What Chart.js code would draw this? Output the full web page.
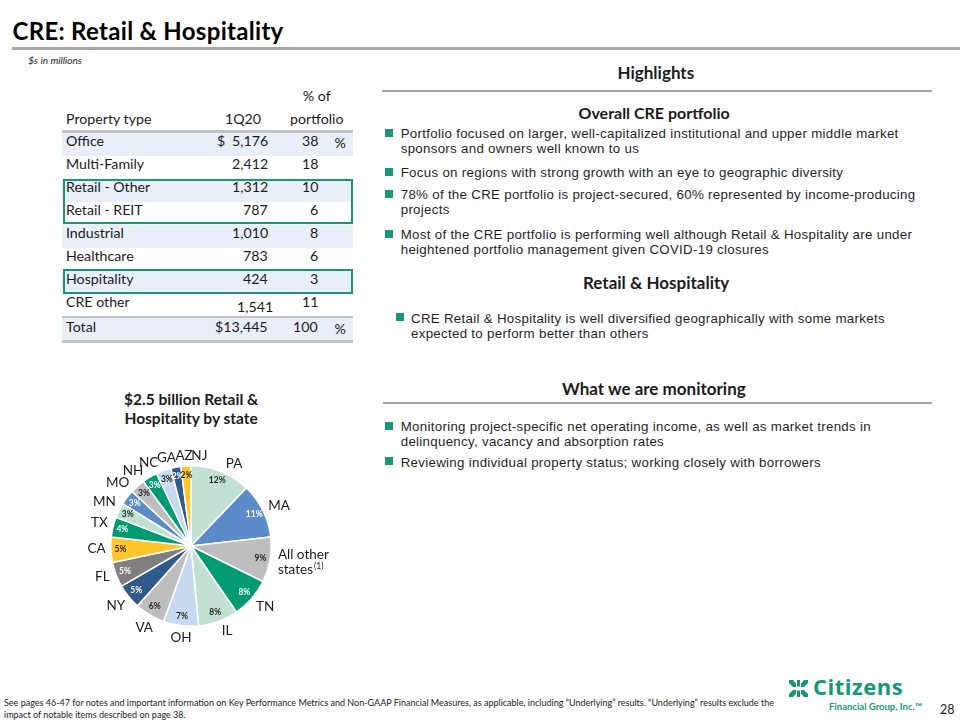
<!DOCTYPE html>
<html>
<head>
<meta charset="utf-8">
<title>CRE: Retail &amp; Hospitality</title>
<script src="https://cdn.jsdelivr.net/npm/chart.js@4.4.1/dist/chart.umd.min.js"></script>
<style>
  body { margin: 0; background: #fff; }
  #slide { position: relative; width: 960px; height: 720px; overflow: hidden;
           font-family: Lato, "Open Sans", sans-serif; color: #1b1b1b; }
  .t { position: absolute; white-space: nowrap; }
  .box { position: absolute; box-sizing: border-box; }
  #pieBox { position: absolute; left: 0; top: 430px; width: 382px; height: 232px; }
</style>
</head>
<body>
<div id="slide">
  <div id="pieBox"><canvas id="pie" width="382" height="232"></canvas></div>
</div>
<script>
// DATA
const states = ['PA', 'MA', 'All other states', 'TN', 'IL', 'OH', 'VA', 'NY', 'FL', 'CA', 'TX', 'MN', 'MO', 'NH', 'NC', 'GA', 'AZ', 'NJ'];
const stateShare = [12, 11, 9, 8, 8, 7, 6, 5, 5, 5, 4, 3, 3, 3, 3, 3, 2, 2];

const propertyTypes = ['Office', 'Multi-Family', 'Retail - Other', 'Retail - REIT', 'Industrial', 'Healthcare', 'Hospitality', 'CRE other'];
const balances1Q20 = [5176, 2412, 1312, 787, 1010, 783, 424, 1541];
const portfolioPct = [38, 18, 10, 6, 8, 6, 3, 11];
const totalBalance = 13445;
const totalPct = 100;

// COLORS
const mint = '#c2e1d3', blue = '#5b8bc8', gray = '#bebebe', green = '#009a73',
      ltblue = '#c8daf0', navy = '#2f5a8c', dkgray = '#7f7f7f', gold = '#ffc629';
const citizensGreen = '#17977a';
const sliceColors = [mint, blue, gray, green, mint, ltblue, gray, navy, dkgray, gold, green, mint, blue, gray, green, ltblue, navy, gold];
const pctColors = sliceColors.map(function(c) {
  return [blue, green, navy, dkgray].indexOf(c) >= 0 ? '#ffffff' : '#262626';
});
// small angle nudges (degrees) for the state names, like the crowded labels of the original
const labelNudge = [5.7, 1.4, 0, -2, -3.2, -1, -1, 1, 2.1, 1.5, 0.7, 1.2, 3.7, 4.4, 4.1, 4.6, 6.5, 8.9];

const slide = document.getElementById('slide');

function esc(s) {
  return s.replace(/&/g, '&amp;').replace(/</g, '&lt;');
}

// font metrics (ascent, descent) used to place a text by its baseline
const LATO = [0.987, 0.213];
const ARIAL = [0.905, 0.212];

// text helper: x, baseline of first line
function put(str, x, base, o) {
  o = o || {};
  const fs = o.size || 14;
  const lh = o.lh || Math.round(fs * 0.85);
  const m = o.metrics || LATO;
  const d = document.createElement('div');
  d.className = 't';
  d.innerHTML = Array.isArray(str) ? str.map(esc).join('<br>') : esc(str);
  d.style.fontSize = fs + 'px';
  d.style.lineHeight = lh + 'px';
  if (o.bold) d.style.fontWeight = '700';
  if (o.italic) d.style.fontStyle = 'italic';
  if (o.color) d.style.color = o.color;
  if (o.font) d.style.fontFamily = o.font;
  if (o.spacing) d.style.letterSpacing = o.spacing + 'px';
  if (o.align) d.style.textAlign = o.align;
  d.style.top = (base - ((lh - (m[0] + m[1]) * fs) / 2 + m[0] * fs)) + 'px';
  slide.appendChild(d);
  const w = d.offsetWidth;
  if (o.align === 'center') d.style.left = (x - w / 2) + 'px';
  else if (o.align === 'right') d.style.left = (x - w) + 'px';
  else d.style.left = x + 'px';
  return d;
}

function rect(x, y, w, h, css) {
  const d = document.createElement('div');
  d.className = 'box';
  d.style.left = x + 'px';
  d.style.top = y + 'px';
  d.style.width = w + 'px';
  d.style.height = h + 'px';
  Object.assign(d.style, css || {});
  slide.appendChild(d);
  return d;
}

function bullet(x, base) {
  rect(x, base - 9.3, 8, 8, { background: citizensGreen });
}

// TITLE
put('CRE: Retail & Hospitality', 12.5, 40, { size: 24, bold: true, color: '#000', spacing: 0.3 });
rect(12, 47, 948, 3, { background: '#a6a6a6' });
put('$s in millions', 28.3, 64, { size: 10, italic: true });

// TABLE
const rowTop = 132.5, rowH = 23, tableL = 62, tableW = 291;
const fmt = function(n) { return n.toLocaleString('en-US'); };
const tSize = 14.2;

propertyTypes.forEach(function(name, i) {
  if (i % 2 === 0) rect(tableL, rowTop + i * rowH, tableW, rowH, { background: '#e9eff8' });
});
rect(tableL, 318, tableW, 22, { background: '#e9eff8' });
rect(tableL, 130, tableW, 2.5, { background: '#c3c3c3' });
rect(tableL, 316, tableW, 2, { background: '#c3c3c3' });
rect(tableL, 340, tableW, 2.5, { background: '#c3c3c3' });

put(['% of', 'portfolio'], 317, 101, { size: tSize, align: 'center', lh: 23 });
put('Property type', 66, 124, { size: tSize });
put('1Q20', 243, 124, { size: tSize, align: 'center' });

propertyTypes.forEach(function(name, i) {
  const base = rowTop + i * rowH + 14;
  put(name, 66, base, { size: tSize });
  // CRE other sits a bit lower and to the right in the original
  const shift = name === 'CRE other' ? 5 : 0;
  put(fmt(balances1Q20[i]), 268 + shift, base + shift, { size: tSize, align: 'right' });
  put(String(portfolioPct[i]), 318, base, { size: tSize, align: 'right' });
  if (i === 0) {
    put('$', 217, base, { size: tSize });
    put('%', 340, base + 2, { size: tSize, align: 'center' });
  }
});
put('Total', 66, 332, { size: tSize });
put('$' + fmt(totalBalance), 268, 332, { size: tSize, align: 'right' });
put(String(totalPct), 318, 332, { size: tSize, align: 'right' });
put('%', 340, 334, { size: tSize, align: 'center' });

// green highlight boxes
rect(62.5, 179.3, 290.5, 44.7, { border: '2.5px solid ' + citizensGreen });
rect(62.5, 269.3, 290.5, 25, { border: '2.5px solid ' + citizensGreen });

// RIGHT PANEL
const hx = 656;
const body = { size: 13.3, lh: 15, spacing: 0.3, metrics: ARIAL, font: '"Liberation Sans", Arial, sans-serif', color: '#1f1f1f' };
function para(lines, x, base) {
  put(lines, x, base, body);
}
put('Highlights', hx, 79.3, { size: 17, bold: true, align: 'center' });
rect(382, 90, 550, 2, { background: '#a6a6a6' });
put('Overall CRE portfolio', hx - 2, 119.3, { size: 16, bold: true, align: 'center' });

bullet(385, 138.3);
para(['Portfolio focused on larger, well-capitalized institutional and upper middle market',
      'sponsors and owners well known to us'], 400.7, 138.3);
bullet(385, 177.3);
para('Focus on regions with strong growth with an eye to geographic diversity', 400.7, 177.3);
bullet(385, 199.3);
para(['78% of the CRE portfolio is project-secured, 60% represented by income-producing',
      'projects'], 400.7, 199.3);
bullet(385, 239.3);
para(['Most of the CRE portfolio is performing well although Retail & Hospitality are under',
      'heightened portfolio management given COVID-19 closures'], 400.7, 239.3);

put('Retail & Hospitality', hx, 289.3, { size: 17, bold: true, align: 'center' });
bullet(396, 322.7);
para(['CRE Retail & Hospitality is well diversified geographically with some markets',
      'expected to perform better than others'], 411, 322.7);

put('What we are monitoring', hx - 2, 396, { size: 17, bold: true, align: 'center' });
rect(383, 401.5, 549, 2, { background: '#a6a6a6' });
bullet(385, 431);
para(['Monitoring project-specific net operating income, as well as market trends in',
      'delinquency, vacancy and absorption rates'], 400.7, 431);
bullet(385, 466.7);
para('Reviewing individual property status; working closely with borrowers', 400.7, 466.7);

// PIE TITLE
put(['$2.5 billion Retail &', 'Hospitality by state'], 191, 405, { size: 15.5, bold: true, align: 'center', lh: 19 });

// FOOTER
put(['See pages 46-47 for notes and important information on Key Performance Metrics and Non-GAAP Financial Measures, as applicable, including \u201cUnderlying\u201d results. \u201cUnderlying\u201d results exclude the',
     'impact of notable items described on page 38.'], 4, 706, { size: 9, lh: 12 });
put('28', 940, 714, { size: 12.5 });

// LOGO
const logo = document.createElementNS('http://www.w3.org/2000/svg', 'svg');
logo.setAttribute('width', '21');
logo.setAttribute('height', '17');
logo.setAttribute('viewBox', '0 0 21 17');
logo.style.position = 'absolute';
logo.style.left = '788px';
logo.style.top = '680px';
logo.innerHTML =
  '<g fill="' + citizensGreen + '">' +
  '<path d="M1 0h4l3 3.5v3.5H5L1 3z"/><path d="M20 0h-4l-3 3.5v3.5h3l4-4z"/>' +
  '<path d="M1 17h4l3-3.5V10H5l-4 4z"/><path d="M20 17h-4l-3-3.5V10h3l4 4z"/>' +
  '<rect x="9" y="0" width="3" height="6.5"/><rect x="9" y="10.5" width="3" height="6.5"/>' +
  '</g>';
slide.appendChild(logo);
put('Citizens', 813, 695, { size: 22, bold: true, color: citizensGreen, font: '"Open Sans", Lato, sans-serif', spacing: 0.5, lh: 16 });
put('Financial Group, Inc.\u2122', 829, 710.5, { size: 9.5, bold: true, color: citizensGreen, lh: 8 });

// PIE LABELS
const sliceLabels = {
  id: 'sliceLabels',
  afterDatasetsDraw: function(chart) {
    const ctx = chart.ctx;
    const meta = chart.getDatasetMeta(0);
    meta.data.forEach(function(arc, i) {
      const p = arc.getProps(['x', 'y', 'startAngle', 'endAngle', 'outerRadius'], true);
      const mid = (p.startAngle + p.endAngle) / 2;
      ctx.save();

      // percentage inside the slice
      ctx.font = 'bold 8.5px Lato';
      ctx.fillStyle = pctColors[i];
      ctx.textAlign = 'center';
      ctx.textBaseline = 'middle';
      const rp = p.outerRadius * 0.88;
      ctx.fillText(stateShare[i] + '%', p.x + Math.cos(mid) * rp, p.y + Math.sin(mid) * rp);

      // state name outside
      const fs = 13.5, capH = fs * 0.72;
      ctx.font = fs + 'px Lato';
      ctx.fillStyle = '#1b1b1b';
      ctx.textBaseline = 'alphabetic';
      const a = mid + labelNudge[i] * Math.PI / 180;
      if (states[i] === 'All other states') {
        const d = p.outerRadius + 7;
        const ax = p.x + Math.cos(a) * d, ay = p.y + Math.sin(a) * d;
        ctx.textAlign = 'left';
        ctx.fillText('All other', ax + 1, ay - 7.5 + capH / 2);
        ctx.fillText('states', ax + 1, ay + 7.5 + capH / 2);
        const w = ctx.measureText('states').width;
        ctx.font = '8.5px Lato';
        ctx.fillText('(1)', ax + 1 + w + 1, ay + 7.5 + capH / 2 - 5);
      } else {
        const w = ctx.measureText(states[i]).width;
        const ext = Math.abs(Math.cos(a)) * w / 2 + Math.abs(Math.sin(a)) * capH / 2;
        const d = p.outerRadius + 5 + ext;
        ctx.textAlign = 'center';
        ctx.fillText(states[i], p.x + Math.cos(a) * d, p.y + Math.sin(a) * d + capH / 2);
      }
      ctx.restore();
    });
  }
};

new Chart(document.getElementById('pie'), {
  type: 'pie',
  data: {
    labels: states,
    datasets: [{
      data: stateShare,
      backgroundColor: sliceColors,
      borderColor: '#ffffff',
      borderWidth: 1.5
    }]
  },
  options: {
    responsive: false,
    animation: false,
    devicePixelRatio: 1,
    layout: { padding: 35 },
    plugins: {
      legend: { display: false },
      tooltip: { enabled: false }
    }
  },
  plugins: [sliceLabels]
});
</script>
</body>
</html>
